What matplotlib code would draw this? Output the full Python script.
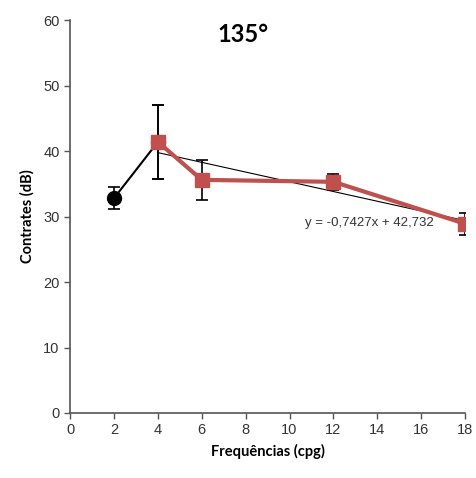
import matplotlib
matplotlib.use('Agg')
import matplotlib.pyplot as plt
import numpy as np

# spatial frequency (cpg) vs contrast (dB), 135 deg orientation
freq_first = [2, 4]
contrast_first = [32.8, 41.4]
err_first = [1.7, 5.6]

freq = [4, 6, 12, 18]
contrast = [41.4, 35.6, 35.3, 28.9]
err = [5.6, 3.1, 1.2, 1.7]

slope, intercept = -0.7427, 42.732

RED = '#C0504D'
AXC = '#555555'

fig = plt.figure(figsize=(4.77, 4.78), dpi=100)
ax = fig.add_axes([0.147, 0.136, 0.828, 0.822])

ax.errorbar(freq_first, contrast_first, yerr=err_first, color='black', lw=1.5,
            marker='o', ms=10, capsize=4, elinewidth=1.2, capthick=1.2, zorder=3)
ax.errorbar(freq, contrast, yerr=err, color=RED, lw=3, marker='s', ms=10,
            mec=RED, ecolor='black', capsize=4, elinewidth=1.2, capthick=1.2, zorder=4)

# linear trend over the red series
xt = np.array([freq[0], freq[-1]])
ax.plot(xt, slope * xt + intercept, color='black', lw=0.8, zorder=2)
ax.text(10.7, 29.0, 'y = -0,7427x + 42,732', fontsize=9.5, color='#333333',
        family='Liberation Sans', va='center')

ax.set_xlim(0, 18)
ax.set_ylim(0, 60)
ax.set_xticks(range(0, 19, 2))
ax.set_yticks(range(0, 61, 10))
for s in ['top', 'right']:
    ax.spines[s].set_visible(False)
for s in ['left', 'bottom']:
    ax.spines[s].set_color(AXC)
    ax.spines[s].set_linewidth(1.2)
ax.tick_params(direction='out', length=4, width=1, color=AXC,
               labelsize=10.5, labelcolor='#333333')
for lab in ax.get_xticklabels() + ax.get_yticklabels():
    lab.set_family('Liberation Sans')

ax.set_xlabel('Frequências (cpg)', fontsize=10.5, fontweight='bold', family='Lato', labelpad=5)
ax.set_ylabel('Contrates (dB)', fontsize=10.5, fontweight='bold', family='Lato', labelpad=6)
ax.text(7.9, 57.8, '135°', fontsize=17, fontweight='bold', family='Lato',
        ha='center', va='center')

fig.savefig('out.png', dpi=100)
